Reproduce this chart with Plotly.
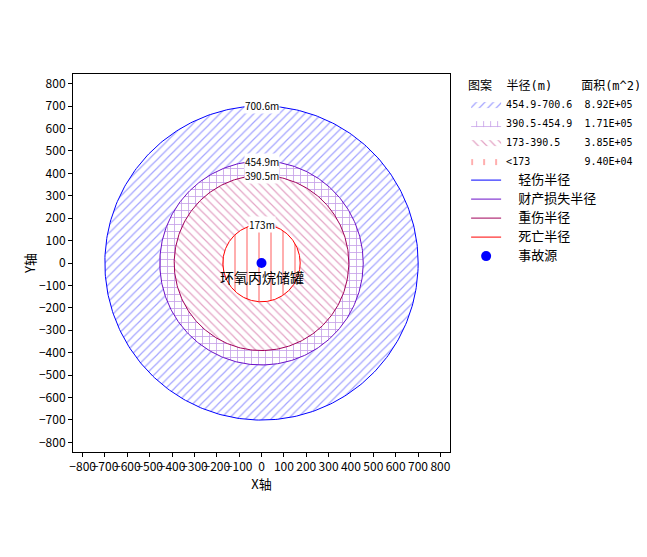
import numpy as np
import plotly.graph_objects as go

# radii (m), outer to inner
radii = [700.6, 454.9, 390.5, 173]
radius_labels = ["700.6m", "454.9m", "390.5m", "173m"]
range_labels = ["454.9-700.6", "390.5-454.9", "173-390.5", "<173"]
area_labels = ["8.92E+05", "1.71E+05", "3.85E+05", "9.40E+04"]
line_names = ["轻伤半径", "财产损失半径", "重伤半径", "死亡半径"]
source_name = "事故源"
source_label = "环氧丙烷储罐"
source_xy = (0, 0)

pattern_shapes = ["/", "+", "\\", "|"]
pattern_colors = ["#4a4aff", "#8a40d0", "#c84a8c", "#ff4a4a"]
pattern_sizes = [6, 7, 6, 12]
pattern_solid = [0.2, 0.22, 0.2, 0.15]
line_colors = ["#0000ff", "#6a0fc8", "#a0005a", "#ff0000"]

FONT = "Noto Sans CJK SC"
MONO = "DejaVu Sans Mono, " + FONT
NB = "\u00a0"

theta = np.linspace(0, 2 * np.pi, 361)

fig = go.Figure()

# hatched zones, outer first so smaller circles sit on top
for r, rng, area, shp, col, sz, so in zip(radii, range_labels, area_labels,
                                          pattern_shapes, pattern_colors,
                                          pattern_sizes, pattern_solid):
    name = (rng.ljust(13) + area).replace(" ", NB)
    fig.add_trace(go.Scatter(
        x=r * np.cos(theta), y=r * np.sin(theta),
        mode="lines", fill="toself",
        fillcolor="white",
        fillpattern=dict(shape=shp, fgcolor=col, bgcolor="white",
                         size=sz, solidity=so),
        line=dict(width=0, color=col),
        name=name, hoverinfo="skip",
    ))

# radius outlines
for r, nm, col in zip(radii, line_names, line_colors):
    fig.add_trace(go.Scatter(
        x=r * np.cos(theta), y=r * np.sin(theta),
        mode="lines", line=dict(color=col, width=1),
        name=NB * 2 + "<span style='font-size:13px'>" + nm + "</span>",
        hoverinfo="skip",
    ))

fig.add_trace(go.Scatter(
    x=[source_xy[0]], y=[source_xy[1]], mode="markers",
    marker=dict(color="#0000ff", size=10),
    name=NB * 2 + "<span style='font-size:13px'>" + source_name + "</span>",
))

for r, lab in zip(radii, radius_labels):
    fig.add_annotation(x=0, y=r, text=lab, showarrow=False,
                       bgcolor="white", borderpad=0,
                       font=dict(size=10, color="black", family=FONT))

fig.add_annotation(x=source_xy[0], y=source_xy[1] - 62, text=source_label,
                   showarrow=False, font=dict(size=14, color="black", family=FONT))

axis_common = dict(
    range=[-843, 843], dtick=100, tick0=0,
    showgrid=False, zeroline=False, automargin=False,
    showline=True, linecolor="black", linewidth=1, mirror=True,
    ticks="outside", ticklen=4, tickcolor="black",
    tickfont=dict(size=12, color="black", family=FONT),
)

fig.update_xaxes(title=dict(text="X轴", font=dict(size=13, family=FONT, color="black"),
                            standoff=2),
                 tickangle=0, **axis_common)
fig.update_yaxes(title=dict(text="Y轴", font=dict(size=13, family=FONT, color="black"),
                            standoff=0),
                 **axis_common)

# the page body adds an 8px offset, so margins are trimmed by that much
fig.update_layout(
    width=647, height=557,
    margin=dict(l=65, r=204, t=66, b=113),
    plot_bgcolor="white", paper_bgcolor="white",
    font=dict(family=FONT, size=12, color="black"),
    legend=dict(
        x=1.04, y=1.0, xanchor="left", yanchor="top",
        title=dict(text="图案" + NB * 2 + "半径(m)" + NB * 4 + "面积(m^2)",
                   font=dict(size=12, family=MONO)),
        font=dict(size=10, family=MONO),
        tracegroupgap=0, itemwidth=30,
        bgcolor="rgba(0,0,0,0)",
    ),
    showlegend=True,
)

fig.write_html("out.html")
